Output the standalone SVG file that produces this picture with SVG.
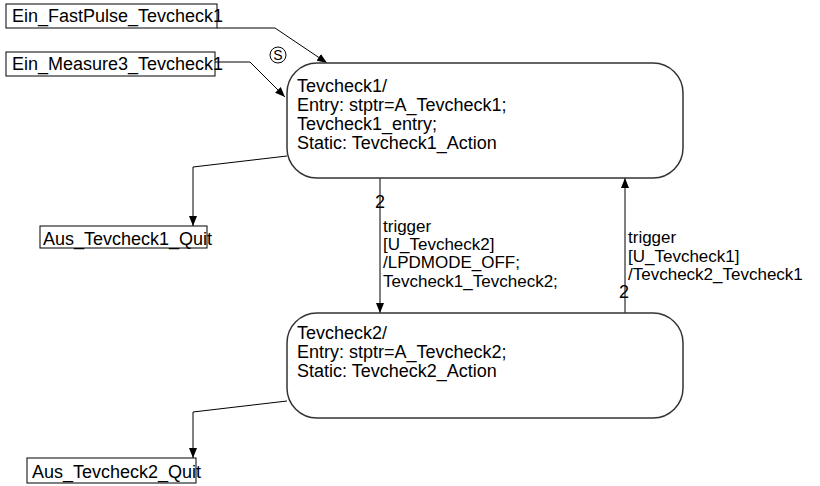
<svg xmlns="http://www.w3.org/2000/svg" width="820" height="486" viewBox="0 0 820 486">
<style>
text{font-family:"Liberation Sans",Arial,sans-serif;font-size:18px;fill:#000}
.lbl{font-size:17px}
.box{fill:#fff;stroke:#000;stroke-width:1}
.state{fill:#fff;stroke:#333;stroke-width:1.5}
.conn{fill:none;stroke:#000;stroke-width:1}
</style>
<defs>
<marker id="arr" viewBox="0 0 10 8" refX="10" refY="4" markerWidth="10" markerHeight="8" markerUnits="userSpaceOnUse" orient="auto">
<path d="M0,0 L10,4 L0,8 Z" fill="#000"/>
</marker>
</defs>
<g id="connectors">
<polyline class="conn" points="217,28 275,28 327,63" marker-end="url(#arr)"/>
<polyline class="conn" points="215,62 250,62 285,97" marker-end="url(#arr)"/>
<polyline class="conn" points="287,156 193,167 193,226" marker-end="url(#arr)"/>
<polyline class="conn" points="287,401 193,412 193,458" marker-end="url(#arr)"/>
<line class="conn" x1="380" y1="178" x2="380" y2="313" marker-end="url(#arr)"/>
<line class="conn" x1="625" y1="313" x2="625" y2="178" marker-end="url(#arr)"/>
<text x="375" y="208">2</text>
<text class="lbl" x="383" y="232">trigger</text>
<text class="lbl" x="383" y="250">[U_Tevcheck2]</text>
<text class="lbl" x="383" y="268">/LPDMODE_OFF;</text>
<text class="lbl" x="383" y="287">Tevcheck1_Tevcheck2;</text>
<text class="lbl" x="628" y="243">trigger</text>
<text class="lbl" x="628" y="262">[U_Tevcheck1]</text>
<text class="lbl" x="628" y="280">/Tevcheck2_Tevcheck1</text>
<text x="619" y="298">2</text>
<circle cx="278" cy="55" r="8" fill="none" stroke="#000" stroke-width="1"/>
<text x="278" y="60" text-anchor="middle" style="font-size:14px">S</text>
</g>
<g id="Ein_FastPulse_Tevcheck1">
<rect class="box" x="6" y="4" width="211" height="24"/>
<text x="12" y="22">Ein_FastPulse_Tevcheck1</text>
</g>
<g id="Ein_Measure3_Tevcheck1">
<rect class="box" x="6" y="52" width="209" height="24"/>
<text x="12" y="70">Ein_Measure3_Tevcheck1</text>
</g>
<g id="Tevcheck1">
<rect class="state" x="287" y="63" width="396" height="115" rx="30" ry="30"/>
<text x="297" y="92">Tevcheck1/</text>
<text x="297" y="111">Entry: stptr=A_Tevcheck1;</text>
<text x="297" y="130">Tevcheck1_entry;</text>
<text x="297" y="149">Static: Tevcheck1_Action</text>
</g>
<g id="Tevcheck2">
<rect class="state" x="287" y="313" width="396" height="105" rx="30" ry="30"/>
<text x="297" y="339">Tevcheck2/</text>
<text x="297" y="358">Entry: stptr=A_Tevcheck2;</text>
<text x="297" y="377">Static: Tevcheck2_Action</text>
</g>
<g id="Aus_Tevcheck1_Quit">
<rect class="box" x="40" y="226" width="167" height="22"/>
<text x="43" y="245">Aus_Tevcheck1_Quit</text>
</g>
<g id="Aus_Tevcheck2_Quit">
<rect class="box" x="27" y="458" width="169" height="25"/>
<text x="32" y="478">Aus_Tevcheck2_Quit</text>
</g>
</svg>
